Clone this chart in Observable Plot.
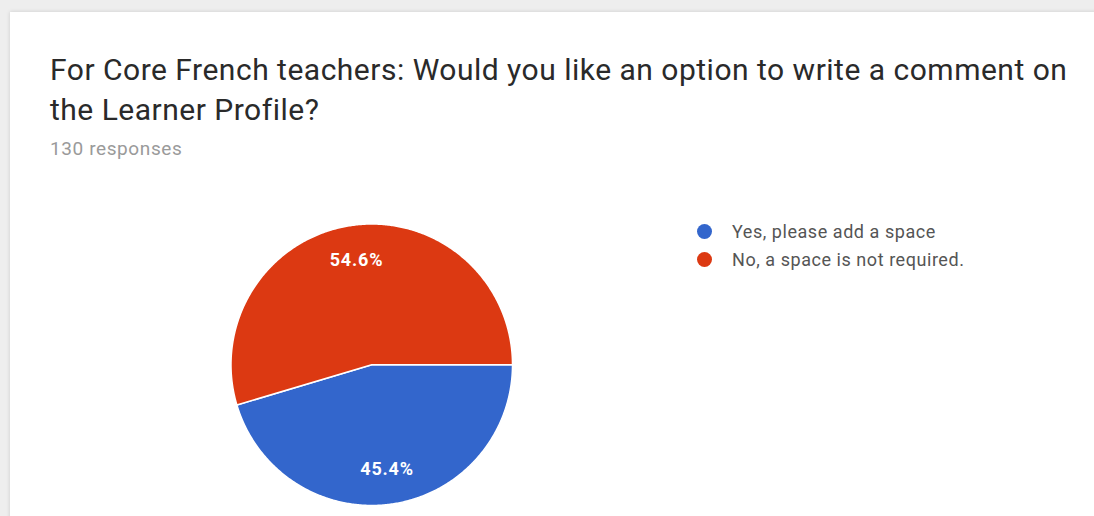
<!DOCTYPE html>
<html>
<head>
<meta charset="utf-8">
<script src="https://cdn.jsdelivr.net/npm/d3@7"></script>
<script src="https://cdn.jsdelivr.net/npm/@observablehq/plot@0.6"></script>
<style>
  html, body { margin: 0; padding: 0; }
  body { width: 1094px; height: 516px; overflow: hidden; background: #eeeeee; position: relative; font-family: Roboto, "Noto Sans", sans-serif; }
  #card { position: absolute; left: 10px; top: 12px; width: 1200px; height: 600px; background: #fff; box-shadow: 0 0 4px rgba(0,0,0,0.15); }
  .title { position: absolute; left: 50px; top: 50px; font-size: 30px; letter-spacing: 0.5px; line-height: 40px; color: #2a2a2a; white-space: nowrap; }
  .sub { position: absolute; left: 50px; top: 139px; font-size: 19px; letter-spacing: 0.6px; line-height: 20px; color: #9a9a9a; white-space: nowrap; }
  #chart { position: absolute; left: 0; top: 0; }
  #legend { position: absolute; left: 697px; top: 217px; font-size: 18px; letter-spacing: 0.55px; color: #555; }
  #legend .row { display: flex; align-items: center; height: 28.5px; white-space: nowrap; }
  #legend .sw { width: 15px; height: 15px; border-radius: 50%; margin-right: 20px; flex: none; }
</style>
</head>
<body>
<div id="card"></div>
<div class="title">For Core French teachers: Would you like an option to write a comment on<br>the Learner Profile?</div>
<div class="sub">130 responses</div>
<div id="chart"></div>
<div id="legend"></div>
<script>
const answers = ["Yes, please add a space", "No, a space is not required."];
const counts = [59, 71];
const colors = ["#3366cc", "#dc3912"];

const total = d3.sum(counts);
const rows = answers.map((a, i) => ({answer: a, count: counts[i]}));
const arcs = d3.pie().value(d => d.count).sort(null)
  .startAngle(Math.PI / 2).endAngle(Math.PI / 2 + 2 * Math.PI)(rows);

// polygon outline of each slice (centre, arc, centre)
const outline = [];
for (const a of arcs) {
  outline.push({answer: a.data.answer, x: 0, y: 0});
  const n = Math.max(2, Math.ceil((a.endAngle - a.startAngle) / (Math.PI / 360)));
  for (let k = 0; k <= n; k++) {
    const t = a.startAngle + (a.endAngle - a.startAngle) * k / n;
    outline.push({answer: a.data.answer, x: Math.sin(t), y: Math.cos(t)});
  }
  outline.push({answer: a.data.answer, x: 0, y: 0});
}
const labels = arcs.map(a => {
  const m = (a.startAngle + a.endAngle) / 2;
  return {x: 0.75 * Math.sin(m), y: 0.75 * Math.cos(m), text: (100 * a.data.count / total).toFixed(1) + "%"};
});

const plot = Plot.plot({
  width: 1094,
  height: 516,
  margin: 0,
  style: {background: "transparent", overflow: "visible"},
  x: {domain: [-1, 1], range: [230.5, 512], axis: null},
  y: {domain: [-1, 1], range: [505, 223.5], axis: null},
  color: {domain: answers, range: colors},
  marks: [
    Plot.line(outline, {x: "x", y: "y", z: "answer", fill: "answer", stroke: "#fff", strokeWidth: 1.5, strokeLinejoin: "round", curve: "linear"}),
    Plot.text(labels, {x: "x", y: "y", text: "text", fill: "#fff", fontSize: 18, fontWeight: "bold", fontFamily: "Roboto, sans-serif", style: "letter-spacing: 0.8px"})
  ]
});
plot.querySelectorAll("text").forEach(t => t.style.letterSpacing = "0.8px");
document.getElementById("chart").appendChild(plot);

const legend = document.getElementById("legend");
answers.forEach((a, i) => {
  const row = document.createElement("div");
  row.className = "row";
  const sw = document.createElement("span");
  sw.className = "sw";
  sw.style.background = colors[i];
  const label = document.createElement("span");
  label.textContent = a;
  row.appendChild(sw);
  row.appendChild(label);
  legend.appendChild(row);
});
</script>
</body>
</html>
